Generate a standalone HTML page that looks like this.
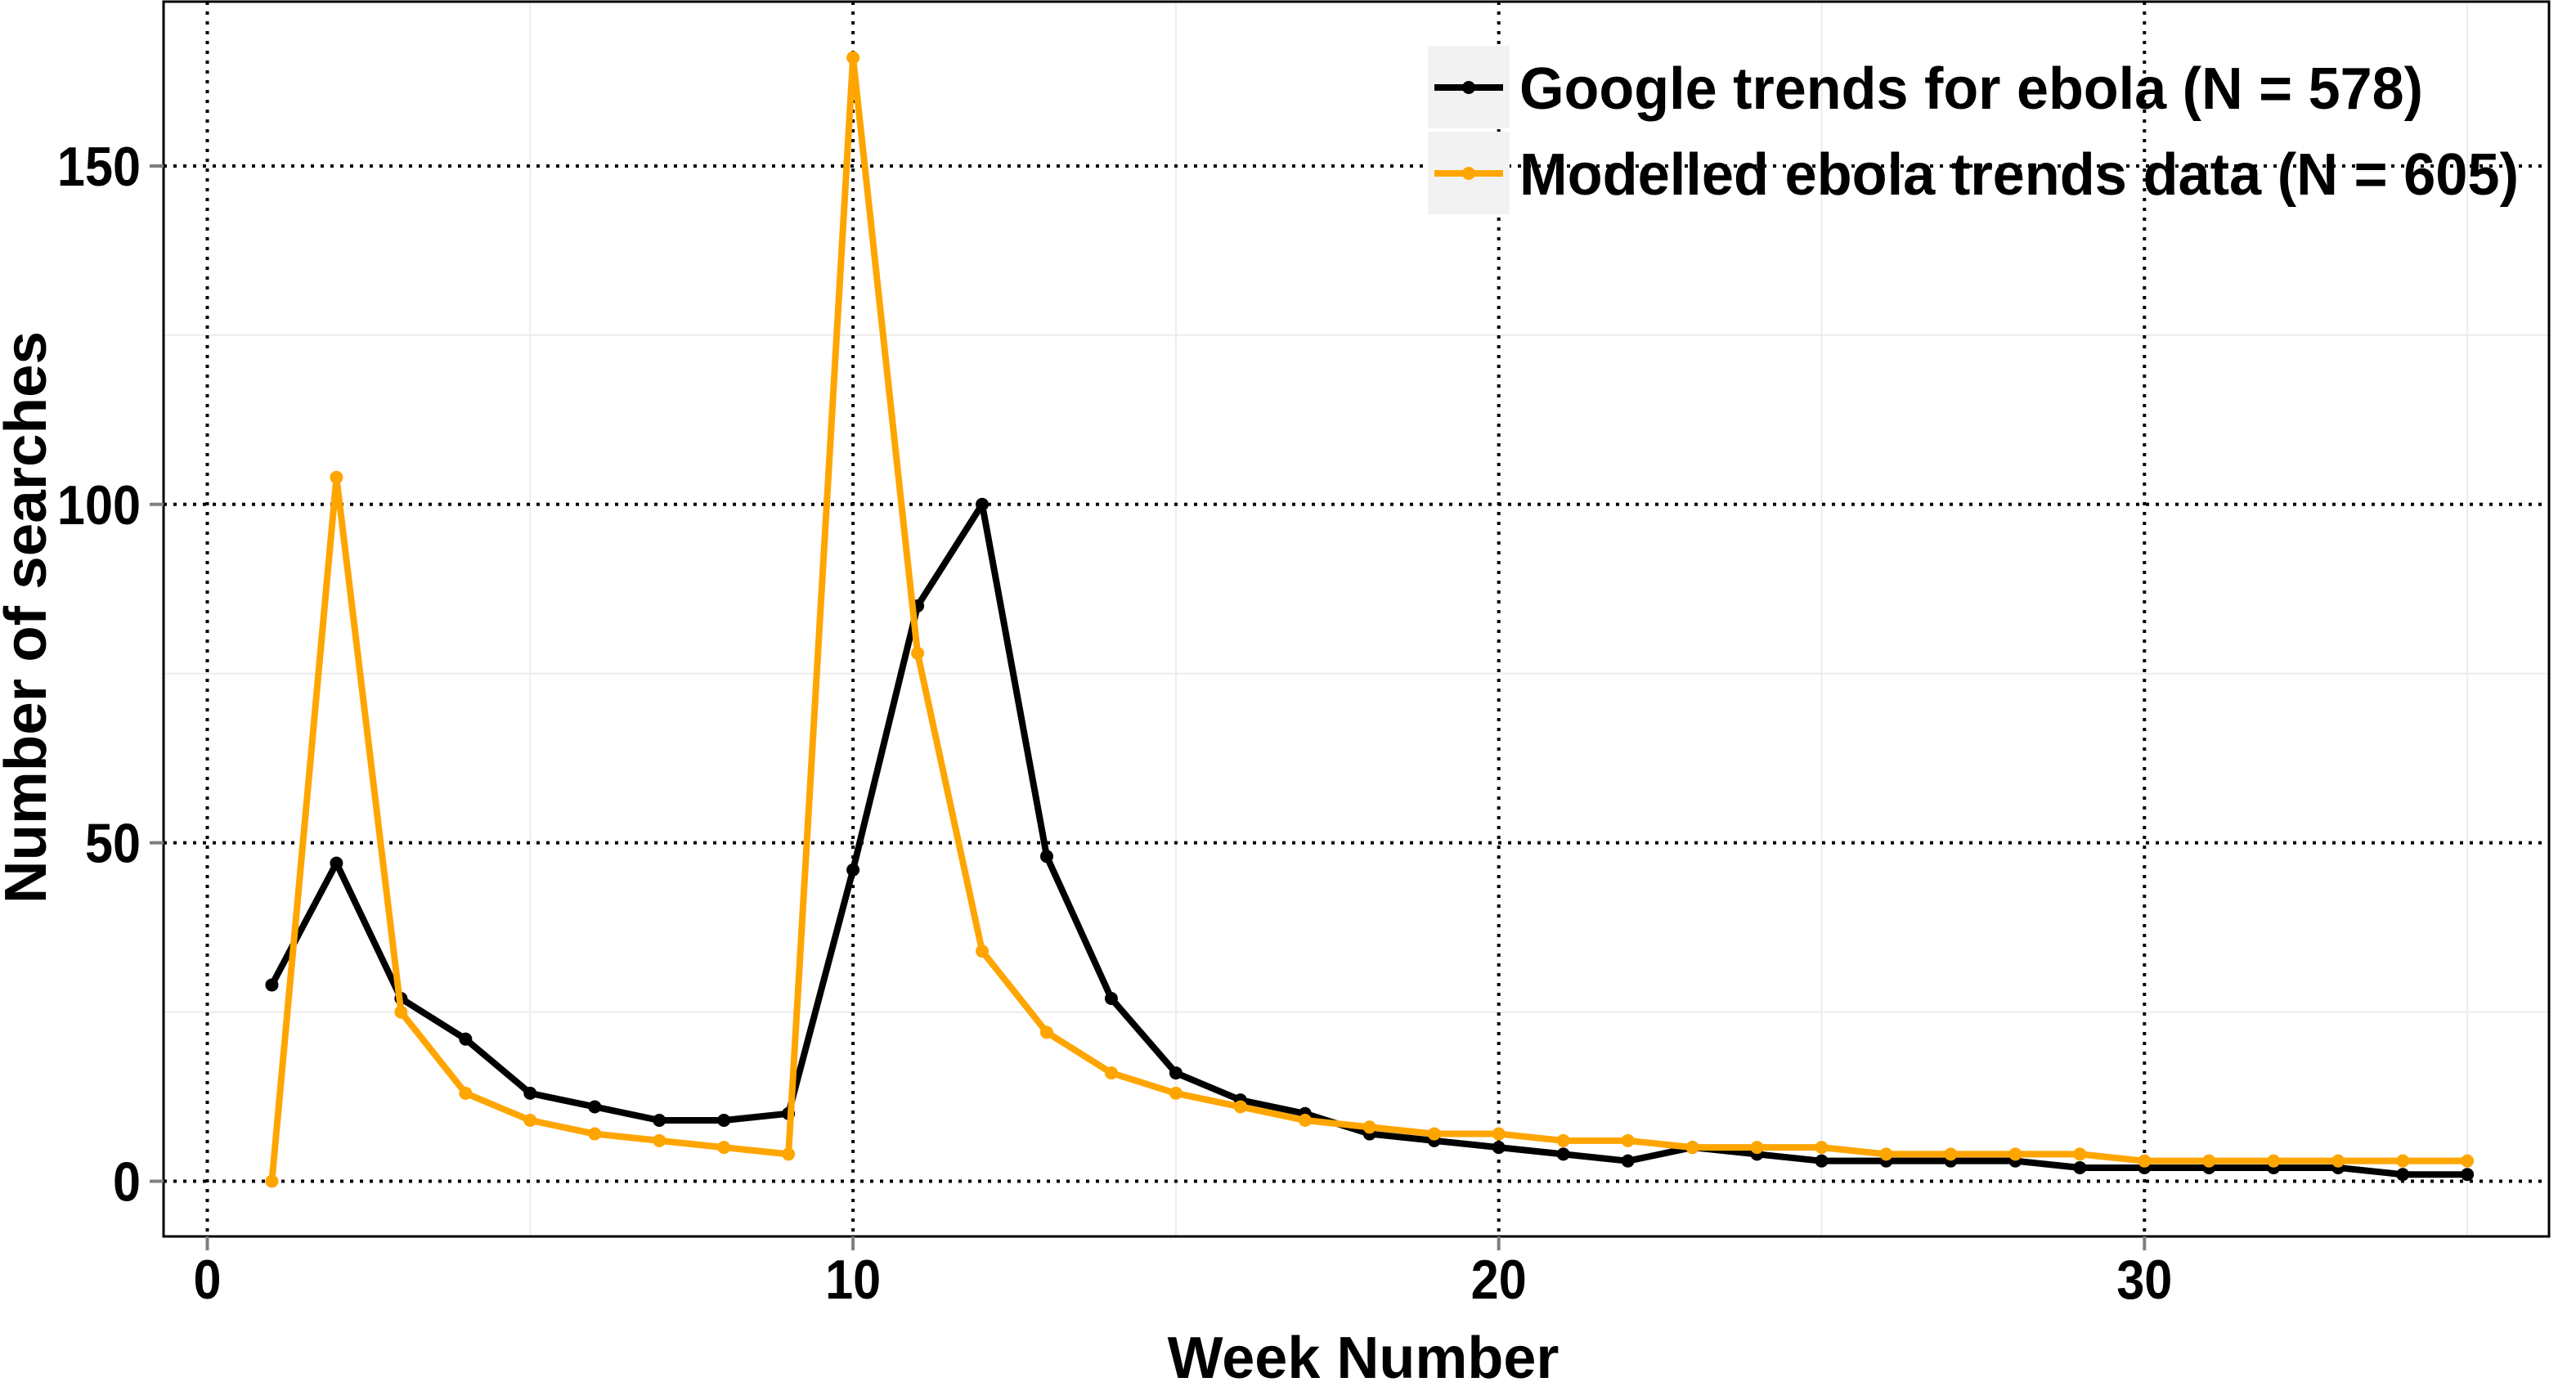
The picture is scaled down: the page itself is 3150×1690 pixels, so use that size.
<!DOCTYPE html>
<html><head><meta charset="utf-8"><style>
html,body{margin:0;padding:0;background:#fff;}
svg{display:block;font-family:"Liberation Sans",Arial,sans-serif;font-weight:bold;}
</style></head><body>
<svg id="chart" width="3150" height="1690" viewBox="0 0 3150 1690">
<g id="grid"></g>
<rect x="200" y="2" width="2917" height="1510" fill="none" stroke="#000" stroke-width="3"/>
<g id="axes"></g>
<g id="series"></g>
<text x="1667" y="1685" font-size="72" text-anchor="middle">Week Number</text>
<text transform="translate(56,755) rotate(-90)" font-size="72" text-anchor="middle" textLength="700" lengthAdjust="spacingAndGlyphs">Number of searches</text>
<g>
<rect x="1746" y="56" width="100" height="101" fill="#f2f2f2"/>
<rect x="1746" y="161" width="100" height="101" fill="#f2f2f2"/>
<line x1="1754" y1="107" x2="1838" y2="107" stroke="#000" stroke-width="8"/>
<circle cx="1796" cy="107" r="8" fill="#000"/>
<line x1="1754" y1="212" x2="1838" y2="212" stroke="#FFA500" stroke-width="8"/>
<circle cx="1796" cy="212" r="8" fill="#FFA500"/>
<text x="1858" y="133" font-size="72" textLength="1105" lengthAdjust="spacingAndGlyphs">Google trends for ebola (N = 578)</text>
<text x="1858" y="238" font-size="72" textLength="1222" lengthAdjust="spacingAndGlyphs">Modelled ebola trends data (N = 605)</text>
</g>
</svg>
<script>
const weeks = [1,2,3,4,5,6,7,8,9,10,11,12,13,14,15,16,17,18,19,20,21,22,23,24,25,26,27,28,29,30,31,32,33,34,35];
const googleValues = [29,47,27,21,13,11,9,9,10,46,85,100,48,27,16,12,10,7,6,5,4,3,5,4,3,3,3,3,2,2,2,2,2,1,1];
const modelledValues = [0,104,25,13,9,7,6,5,4,166,78,34,22,16,13,11,9,8,7,7,6,6,5,5,5,4,4,4,4,3,3,3,3,3,3];
const xTicks = [0,10,20,30];
const yTicks = [0,50,100,150];
const xMinor = [5,15,25,35];
const yMinor = [25,75,125];

const NS = "http://www.w3.org/2000/svg";
const X0 = 253.5, XU = 78.96, Y0 = 1444.5, YU = 8.277;
const PL = 200, PR = 3117, PT = 2, PB = 1512;
function xs(v){return X0 + v*XU;}
function ys(v){return Y0 - v*YU;}
function mk(tag, attrs, parent){const e=document.createElementNS(NS,tag);for(const k in attrs)e.setAttribute(k,attrs[k]);parent.appendChild(e);return e;}
const grid=document.getElementById('grid'), axes=document.getElementById('axes'), series=document.getElementById('series');

xMinor.forEach(v=>{
  const l=mk('line',{x1:xs(v),x2:xs(v),y1:PT,y2:PB,stroke:'#ececec','stroke-width':2},grid);
  
  
});
yMinor.forEach(v=>{
  const l=mk('line',{x1:PL,x2:PR,y1:ys(v),y2:ys(v),stroke:'#ececec','stroke-width':2},grid);
  
  
});
xTicks.forEach(v=>{
  const l=mk('line',{x1:xs(v),x2:xs(v),y1:PT,y2:PB,stroke:'#000','stroke-width':4,'stroke-dasharray':'4 8'},grid);
  
  
  const t=mk('line',{x1:xs(v),x2:xs(v),y1:PB,y2:PB+17,stroke:'#7f7f7f','stroke-width':4},axes);
  
  
  const tx=mk('text',{x:xs(v),y:1588,'font-size':68,'text-anchor':'middle',transform:'translate('+xs(v)+',0) scale(0.9,1) translate('+(-xs(v))+',0)'},axes);
  tx.textContent=v;
  
  
});
yTicks.forEach(v=>{
  const l=mk('line',{x1:PL,x2:PR,y1:ys(v),y2:ys(v),stroke:'#000','stroke-width':4,'stroke-dasharray':'4 8'},grid);
  
  
  const t=mk('line',{x1:PL-17,x2:PL,y1:ys(v),y2:ys(v),stroke:'#7f7f7f','stroke-width':4},axes);
  
  
  const tx=mk('text',{x:172,y:ys(v)+24,'font-size':68,'text-anchor':'end',transform:'translate(172,0) scale(0.9,1) translate(-172,0)'},axes);
  tx.textContent=v;
  
  
});

function drawSeries(vals,color,name){
  const pts=weeks.map((w,i)=>xs(w)+','+ys(vals[i])).join(' ');
  const pl=mk('polyline',{points:pts,fill:'none',stroke:color,'stroke-width':8,'stroke-linejoin':'round'},series);
  
  
  weeks.forEach((w,i)=>{
    const c=mk('circle',{cx:xs(w),cy:ys(vals[i]),r:8,fill:color},series);
    
    
  });
}
drawSeries(googleValues,'#000','google-trends');
drawSeries(modelledValues,'#FFA500','modelled-trends');
</script>
</body></html>
